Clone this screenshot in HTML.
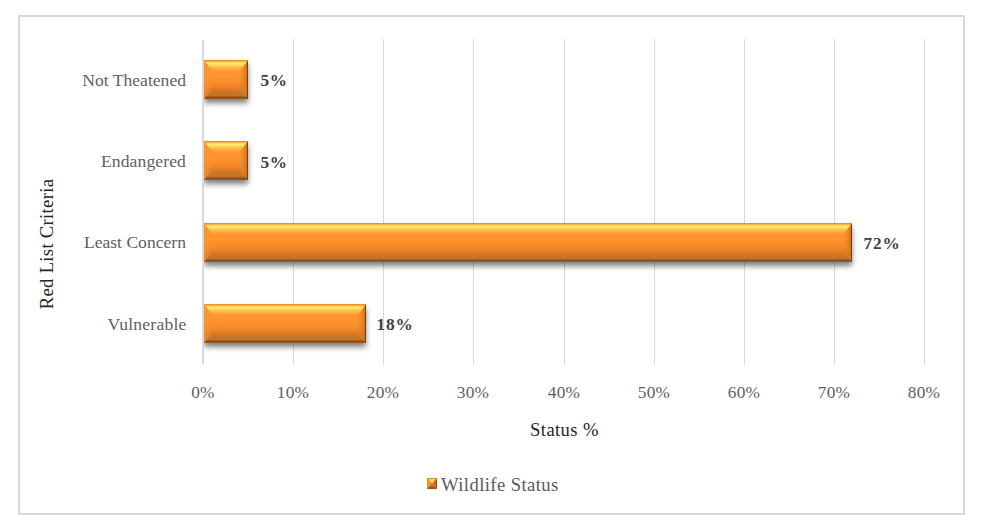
<!DOCTYPE html>
<html><head><meta charset="utf-8">
<style>
html,body{margin:0;padding:0;background:#fff;}
body{width:981px;height:524px;position:relative;overflow:hidden;font-family:"Liberation Serif",serif;}
.frame{position:absolute;left:18px;top:15px;width:943px;height:496px;border:2px solid #d9d9d9;}
.grid{position:absolute;top:39px;height:326px;width:1px;background:#d9d9d9;}
.axis{position:absolute;left:202px;top:40px;width:2px;height:324px;background:#d9d9d9;}
.plot{position:absolute;left:204px;top:30px;width:760px;height:345px;overflow:hidden;}
.shadow{position:absolute;left:0;height:39px;margin-top:-30px;background:#777;box-shadow:0px 4px 5.5px 0px rgba(0,0,0,0.5);}
.bar{position:absolute;display:block;}
.cat{position:absolute;right:795px;color:#606060;font-size:17.6px;line-height:20px;white-space:nowrap;}
.val{position:absolute;color:#404040;font-size:17.3px;font-weight:bold;line-height:20px;white-space:nowrap;}
.tick{position:absolute;top:383px;width:60px;margin-left:-30px;text-align:center;color:#606060;font-size:17.3px;line-height:20px;letter-spacing:0.25px;}
.xtitle{position:absolute;left:204px;width:721px;top:420px;text-align:center;color:#262626;font-size:18.67px;line-height:20px;letter-spacing:0.37px;}
.ytitle{position:absolute;left:46.5px;top:244px;width:0;height:0;}
.ytitle span{position:absolute;display:block;width:200px;height:20px;left:-100px;top:-10px;text-align:center;transform:rotate(-90deg);color:#262626;font-size:18.67px;line-height:20px;white-space:nowrap;letter-spacing:0.3px;}
.legend{position:absolute;left:441px;top:474px;color:#595959;font-size:18.67px;line-height:22px;white-space:nowrap;letter-spacing:0.4px;}
.lkey{position:absolute;left:427px;top:478px;display:block;}
</style></head><body>
<svg width="0" height="0" style="position:absolute"><defs>
<linearGradient id="gf" x1="0" y1="0" x2="0" y2="1"><stop offset="0.0128" stop-color="#ff962e"/><stop offset="0.3205" stop-color="#ff952e"/><stop offset="0.4231" stop-color="#fe942c"/><stop offset="0.5256" stop-color="#fb8f2b"/><stop offset="0.5769" stop-color="#f78c2a"/><stop offset="0.6282" stop-color="#f38828"/><stop offset="0.6795" stop-color="#ed8427"/><stop offset="0.7308" stop-color="#e37e25"/><stop offset="0.7564" stop-color="#dc7a24"/><stop offset="0.9872" stop-color="#d07422"/></linearGradient>
<linearGradient id="gt" gradientUnits="userSpaceOnUse" x1="0" y1="0" x2="0" y2="12"><stop offset="0.0417" stop-color="#f0901e"/><stop offset="0.1250" stop-color="#f8b040"/><stop offset="0.2083" stop-color="#ffd860"/><stop offset="0.2917" stop-color="#ffe870"/><stop offset="0.3750" stop-color="#ffe068"/><stop offset="0.4583" stop-color="#ffd058"/><stop offset="0.5417" stop-color="#ffc450"/><stop offset="0.6250" stop-color="#ffba4a"/><stop offset="0.7083" stop-color="#ffb044"/><stop offset="0.7917" stop-color="#ffa53c"/><stop offset="0.8750" stop-color="#ff9d34"/><stop offset="0.9583" stop-color="#ff9830"/></linearGradient>
<linearGradient id="gb" gradientUnits="userSpaceOnUse" x1="0" y1="29" x2="0" y2="39"><stop offset="0.0500" stop-color="#dc7c24"/><stop offset="0.1500" stop-color="#d67822"/><stop offset="0.2500" stop-color="#d07422"/><stop offset="0.3500" stop-color="#cc7424"/><stop offset="0.4500" stop-color="#c87428"/><stop offset="0.5500" stop-color="#c6762e"/><stop offset="0.6500" stop-color="#c07230"/><stop offset="0.7500" stop-color="#a06024"/><stop offset="0.8500" stop-color="#88501a"/><stop offset="0.9500" stop-color="#9a5616"/></linearGradient>
<linearGradient id="gl" gradientUnits="userSpaceOnUse" x1="0" y1="0" x2="9" y2="0">
<stop offset="0" stop-color="#fb942c" stop-opacity="0.7"/><stop offset="0.6" stop-color="#fc942c" stop-opacity="0.35"/><stop offset="1" stop-color="#fa902a" stop-opacity="0"/></linearGradient>
<linearGradient id="kt" x1="0" y1="0" x2="0" y2="1"><stop offset="0" stop-color="#f8a838"/><stop offset="0.35" stop-color="#ffd45c"/><stop offset="1" stop-color="#ffe468"/></linearGradient>
<linearGradient id="kr" x1="0" y1="0" x2="1" y2="0"><stop offset="0" stop-color="#e88426"/><stop offset="0.7" stop-color="#c46c1a"/><stop offset="1" stop-color="#7a420c"/></linearGradient>
<linearGradient id="kb" x1="0" y1="0" x2="0" y2="1"><stop offset="0" stop-color="#e08026"/><stop offset="0.5" stop-color="#c06c20"/><stop offset="0.8" stop-color="#8e5018"/><stop offset="1" stop-color="#a85c14"/></linearGradient>
<linearGradient id="gr0" gradientUnits="userSpaceOnUse" x1="35" y1="0" x2="44" y2="0">
<stop offset="0" stop-color="#ec8828" stop-opacity="0.15"/><stop offset="0.5" stop-color="#e08024" stop-opacity="0.6"/><stop offset="0.88" stop-color="#c87020" stop-opacity="0.9"/><stop offset="1" stop-color="#a85e14"/></linearGradient><linearGradient id="gr1" gradientUnits="userSpaceOnUse" x1="35" y1="0" x2="44" y2="0">
<stop offset="0" stop-color="#ec8828" stop-opacity="0.15"/><stop offset="0.5" stop-color="#e08024" stop-opacity="0.6"/><stop offset="0.88" stop-color="#c87020" stop-opacity="0.9"/><stop offset="1" stop-color="#a85e14"/></linearGradient><linearGradient id="gr2" gradientUnits="userSpaceOnUse" x1="639" y1="0" x2="648" y2="0">
<stop offset="0" stop-color="#ec8828" stop-opacity="0.15"/><stop offset="0.5" stop-color="#e08024" stop-opacity="0.6"/><stop offset="0.88" stop-color="#c87020" stop-opacity="0.9"/><stop offset="1" stop-color="#a85e14"/></linearGradient><linearGradient id="gr3" gradientUnits="userSpaceOnUse" x1="153" y1="0" x2="162" y2="0">
<stop offset="0" stop-color="#ec8828" stop-opacity="0.15"/><stop offset="0.5" stop-color="#e08024" stop-opacity="0.6"/><stop offset="0.88" stop-color="#c87020" stop-opacity="0.9"/><stop offset="1" stop-color="#a85e14"/></linearGradient></defs></svg>
<div class="frame"></div>
<div class="grid" style="left:293px"></div>
<div class="grid" style="left:383px"></div>
<div class="grid" style="left:473px"></div>
<div class="grid" style="left:564px"></div>
<div class="grid" style="left:654px"></div>
<div class="grid" style="left:744px"></div>
<div class="grid" style="left:834px"></div>
<div class="grid" style="left:924px"></div>
<div class="axis"></div>
<div class="plot">
<div class="shadow" style="top:60px;width:44px"></div><div class="shadow" style="top:141px;width:44px"></div><div class="shadow" style="top:223px;width:648px"></div><div class="shadow" style="top:304px;width:162px"></div>
</div>
<svg class="bar" style="left:204px;top:60px" width="44" height="39" viewBox="0 0 44 39">
<rect x="0" y="0" width="44" height="39" fill="url(#gf)"/>
<polygon points="0,0 9,12 9,29 0,39" fill="url(#gl)"/>
<polygon points="44,0 35,12 35,29 44,39" fill="url(#gr0)"/>
<polygon points="0,0 44,0 35,12 9,12" fill="url(#gt)"/>
<polygon points="0,39 44,39 35,29 9,29" fill="url(#gb)"/>
<rect x="43" y="1" width="1" height="38" fill="#6b3a0a" opacity="0.85"/>
</svg>
<svg class="bar" style="left:204px;top:141px" width="44" height="39" viewBox="0 0 44 39">
<rect x="0" y="0" width="44" height="39" fill="url(#gf)"/>
<polygon points="0,0 9,12 9,29 0,39" fill="url(#gl)"/>
<polygon points="44,0 35,12 35,29 44,39" fill="url(#gr1)"/>
<polygon points="0,0 44,0 35,12 9,12" fill="url(#gt)"/>
<polygon points="0,39 44,39 35,29 9,29" fill="url(#gb)"/>
<rect x="43" y="1" width="1" height="38" fill="#6b3a0a" opacity="0.85"/>
</svg>
<svg class="bar" style="left:204px;top:223px" width="648" height="39" viewBox="0 0 648 39">
<rect x="0" y="0" width="648" height="39" fill="url(#gf)"/>
<polygon points="0,0 9,12 9,29 0,39" fill="url(#gl)"/>
<polygon points="648,0 639,12 639,29 648,39" fill="url(#gr2)"/>
<polygon points="0,0 648,0 639,12 9,12" fill="url(#gt)"/>
<polygon points="0,39 648,39 639,29 9,29" fill="url(#gb)"/>
<rect x="647" y="1" width="1" height="38" fill="#6b3a0a" opacity="0.85"/>
</svg>
<svg class="bar" style="left:204px;top:304px" width="162" height="39" viewBox="0 0 162 39">
<rect x="0" y="0" width="162" height="39" fill="url(#gf)"/>
<polygon points="0,0 9,12 9,29 0,39" fill="url(#gl)"/>
<polygon points="162,0 153,12 153,29 162,39" fill="url(#gr3)"/>
<polygon points="0,0 162,0 153,12 9,12" fill="url(#gt)"/>
<polygon points="0,39 162,39 153,29 9,29" fill="url(#gb)"/>
<rect x="161" y="1" width="1" height="38" fill="#6b3a0a" opacity="0.85"/>
</svg>

<div class="cat" style="top:70px">Not Theatened</div>
<div class="cat" style="top:151px;letter-spacing:0.1px">Endangered</div>
<div class="cat" style="top:232px">Least Concern</div>
<div class="cat" style="top:314px;letter-spacing:0.2px;right:794.5px">Vulnerable</div>

<div class="val" style="left:260.5px;top:71px;letter-spacing:0.5px">5%</div>
<div class="val" style="left:260.5px;top:153px;letter-spacing:0.5px">5%</div>
<div class="val" style="left:863.5px;top:234px;letter-spacing:0.8px">72%</div>
<div class="val" style="left:376.5px;top:315px;letter-spacing:0.8px">18%</div>

<div class="tick" style="left:203px">0%</div>
<div class="tick" style="left:293px">10%</div>
<div class="tick" style="left:383px">20%</div>
<div class="tick" style="left:473px">30%</div>
<div class="tick" style="left:564px">40%</div>
<div class="tick" style="left:654px">50%</div>
<div class="tick" style="left:744px">60%</div>
<div class="tick" style="left:834px">70%</div>
<div class="tick" style="left:924px">80%</div>

<div class="xtitle">Status %</div>
<div class="ytitle"><span>Red List Criteria</span></div>
<svg class="lkey" width="10" height="11" viewBox="0 0 10 11">
<rect width="10" height="11" fill="#ee8a28"/>
<polygon points="0,0 10,0 5,5.5" fill="url(#kt)"/>
<polygon points="0,0 5,5.5 0,11" fill="#f29028"/>
<polygon points="10,0 5,5.5 10,11" fill="url(#kr)"/>
<polygon points="0,11 10,11 5,5.5" fill="url(#kb)"/>
<rect x="0" y="0" width="10" height="1" fill="#f09020" opacity="0.9"/>
</svg>
<div class="legend">Wildlife Status</div>
</body></html>
